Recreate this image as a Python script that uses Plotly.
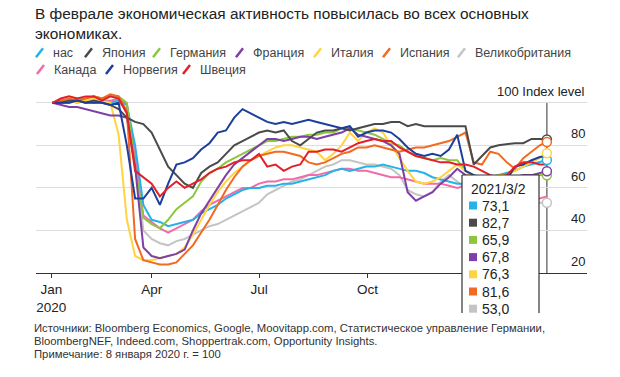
import plotly.graph_objects as go
import pandas as pd

# ---------------- data ----------------
dates = [d.strftime("%Y-%m-%d") for d in pd.date_range("2020-01-08", periods=60, freq="7D")] + ["2021-03-02"]

names = ["нас", "Япония", "Германия", "Франция", "Италия", "Испания",
         "Великобритания", "Канада", "Норвегия", "Швеция"]

us = [100,100,101,100,101,100,101,100,101, 99,80,52,45,44,42,43,44,45,48,50,
      52,55,57,59,60,60,61,61,62,62, 63,64,65,66,68,69,68,69,70,70,
      71,70,69,68,68,67,65,64,63,62, 62,63,64,65,66,67,68,70,71,72, 73.1]
japan = [100,100,101,101,100,101,100,99,97, 93,91,90,86,78,70,66,62,60,67,70,
         72,76,80,82,84,86,87,86,87,82, 80,83,86,87,87,88,87,88,89,90,
         90,91,91,89,90,89,89,89,89,89, 89,71,75,79,80,80.5,81,81,83,83, 82.7]
germany = [100,101,101,102,102,103,102,103,103, 100,70,46,43,41,45,50,53,56,63,67,
           69,72,74,76,78,80,82,82,83,84, 84,85,85,86,86,88,88,87,86,85,
           83,81,80,77,75,74,73,74,73,73, 68,66,62,62,63,64,64,65,66,66, 65.9]
france = [100,99,98,98,97,96,95,94,94, 93,70,32,28,27,28,29,31,40,48,54,
          60,66,71,74,77,80,83,83,82,83, 84,84,83,84,85,86,88,85,84,83,
          82,80,76,58,54,56,58,62,65,69, 66,65,62,63,64,64,65,66,66,67, 67.8]
italy = [100,100,101,100,101,102,101,100,85, 45,28,26,26,27,28,29,32,38,45,52,
         58,63,67,70,73,75,77,79,80,80, 79,78,77,73,76,80,86,82,86,88,
         86,80,74,68,63,62,63,65,68,71, 68,64,63,64,66,66,68,70,72,74, 76.3]
spain = [100,101,102,101,102,103,102,104,103, 96,36,26,25,24,24,25,29,33,39,45,
         52,59,65,70,73,75,76,77,77,76, 75,72,71,72,74,76,77,79,79,80,
         79,78,77,78,79,79,80,81,82,84, 86,72,71,77,76,72,69,74,77,80, 81.6]
uk = [100,100,100,101,100,100,100,99,100, 97,75,40,36,34,33,35,36,38,40,42,
      43,45,47,49,51,53,57,59,61,63, 64,66,68,70,71,73,73,72,71,71,
      70,69,66,59,57,56,58,63,66,63, 60,55,52,51,51,51,52,52,52,53, 53.0]
canada = [100,100,100,101,100,101,101,101,102, 99,75,47,44,41,39,41,43,45,49,52,
          54,56,58,60,60,62,63,63,64,64, 65,66,66,67,68,69,69,68,68,67,
          66,65,65,64,63,62,62,62,61,60, 61,60,59,58,58,57,57,56,56,55, 56]
norway = [100,100,100,101,100,100,100,99,100, 80,55,55,60,52,62,71,72,74,78,81,
          86,87,93,97,95,93,91,90,91,90, 91,92,91,90,89,88,89,84,86,87,
          87,86,83,79,76,75,76,75,78,85, 68,66,65,65,64,64,70,71,73,74.5, 75]
sweden = [100,102,103,102,103,103,101,103,102, 95,68,65,62,56,60,63,60,62,64,67,
          69,70,72,73,73,76,70,71,68,70, 71,77,77,78,78,77,79,81,82,83,
          82,82,79,77,75,74,73,72,72,71, 71,70,68,66,65,66,70,72,72,71, 71]

values = [us, japan, germany, france, italy, spain, uk, canada, norway, sweden]
colors = ["#25b2e6", "#4a4a4a", "#8cc63f", "#7e3fa6", "#ffd43f", "#f26a21",
          "#c4c4c4", "#f06ba8", "#1d3f9c", "#e3202a"]

tooltip_date = "2021/3/2"
tooltip_idx = [0, 1, 2, 3, 4, 5, 6]

x_tickvals = ["2020-01-07", "2020-04-01", "2020-07-01", "2020-10-01"]
x_ticktext = ["Jan<br>2020", "Apr", "Jul", "Oct"]
y_tickvals = [20, 40, 60, 80, 100]
y_ticktext = ["20", "40", "60", "80", "100 Index level"]

title = "В феврале экономическая активность повысилась во всех основных<br>экономиках."
footer = ["Источники: Bloomberg Economics, Google, Moovitapp.com, Статистическое управление Германии,",
          "BloombergNEF, Indeed.com, Shoppertrak.com, Opportunity Insights.",
          "Примечание: 8 января 2020 г. = 100"]

# ---------------- geometry ----------------
W, H = 620, 377
L, R, T, B = 36, 33, 90, 104
PW, PH = W - L - R, H - T - B
FONT = "Liberation Sans, Arial, sans-serif"

def px(x):
    return (x - L) / PW

def py(y):
    return (H - B - y) / PH

fig = go.Figure()

draw_order = [6, 7, 0, 2, 4, 3, 5, 1, 8, 9]
for i in draw_order:
    fig.add_trace(go.Scatter(x=dates, y=values[i], mode="lines", name=names[i],
                             line=dict(color=colors[i], width=2),
                             showlegend=False, hoverinfo="skip"))

for i in [6, 2, 3, 0, 4, 1, 5]:
    fig.add_trace(go.Scatter(x=[dates[-1]], y=[values[i][-1]], mode="markers",
                             marker=dict(size=9, color="white",
                                         line=dict(color=colors[i], width=1.5)),
                             showlegend=False, hoverinfo="skip"))

shapes = []
annotations = []

# y labels above their gridlines, right-aligned
for v, t in zip(y_tickvals, y_ticktext):
    annotations.append(dict(xref="paper", yref="y", x=1.0, y=v, text=t, showarrow=False,
                            xanchor="right", yanchor="bottom", yshift=2,
                            font=dict(family=FONT, size=13, color="#222")))

# vertical cursor line
shapes.append(dict(type="line", xref="x", yref="y", x0=dates[-1], x1=dates[-1],
                   y0=20, y1=100, line=dict(color="#555555", width=1.2), layer="below"))

# tooltip box
bx0, bx1, by0, by1 = 462, 539, 175, 313
shapes.append(dict(type="rect", xref="paper", yref="paper", x0=px(bx0), x1=px(bx1),
                   y0=py(by1), y1=py(by0), fillcolor="white", line=dict(width=0), layer="above"))
for (xa, ya, xb, yb) in [(bx0, by0, bx0, by1), (bx0, by0, bx1, by0), (bx1, by0, bx1, by1)]:
    shapes.append(dict(type="line", xref="paper", yref="paper", x0=px(xa), x1=px(xb),
                       y0=py(ya), y1=py(yb), line=dict(color="#333333", width=1.2), layer="above"))
annotations.append(dict(xref="paper", yref="paper", x=px(469), y=py(188.5), text=tooltip_date,
                        showarrow=False, xanchor="left", yanchor="middle",
                        font=dict(family=FONT, size=14, color="#222")))
for n, i in enumerate(tooltip_idx):
    yc = 205.5 + 17.2 * n
    shapes.append(dict(type="rect", xref="paper", yref="paper", x0=px(469), x1=px(477),
                       y0=py(yc + 4), y1=py(yc - 4), fillcolor=colors[i], line=dict(width=0), layer="above"))
    annotations.append(dict(xref="paper", yref="paper", x=px(479.5), y=py(yc),
                            text=f"{values[i][-1]:.1f}".replace(".", ","),
                            showarrow=False, xanchor="left", yanchor="middle",
                            font=dict(family=FONT, size=14, color="#222")))

# title
annotations.append(dict(xref="paper", yref="paper", x=px(33), y=py(3), text=title,
                        showarrow=False, xanchor="left", yanchor="top", align="left",
                        font=dict(family=FONT, size=15.4, color="#222")))

# custom legend
leg_rows = [[(0, 51), (1, 100), (2, 168), (3, 251), (4, 329), (5, 398), (6, 473)],
            [(7, 52), (8, 121), (9, 198)]]
for row, yc in zip(leg_rows, [52.7, 69.5]):
    for i, tx in row:
        sx = tx - 15
        shapes.append(dict(type="line", xref="paper", yref="paper", x0=px(sx), x1=px(sx + 7),
                           y0=py(yc + 4.5), y1=py(yc - 4.5),
                           line=dict(color=colors[i], width=2.5)))
        annotations.append(dict(xref="paper", yref="paper", x=px(tx), y=py(yc), text=names[i],
                                showarrow=False, xanchor="left", yanchor="middle",
                                font=dict(family=FONT, size=12.5, color="#444")))

# footer
for line, yc in zip(footer, [327.5, 340.5, 353.5]):
    annotations.append(dict(xref="paper", yref="paper", x=px(33), y=py(yc), text=line,
                            showarrow=False, xanchor="left", yanchor="middle", borderpad=0,
                            font=dict(family=FONT, size=11.3, color="#333")))

fig.update_layout(
    width=W, height=H, margin=dict(l=L, r=R, t=T, b=B),
    plot_bgcolor="white", paper_bgcolor="white",
    font=dict(family=FONT, color="#222"),
    hovermode=False,
    shapes=shapes, annotations=annotations,
    xaxis=dict(type="date", range=["2019-12-25", "2021-04-05"],
               tickmode="array", tickvals=x_tickvals, ticktext=x_ticktext,
               ticks="outside", ticklen=4, tickcolor="#333", tickwidth=1,
               showline=True, linecolor="#333", linewidth=1.2,
               showgrid=False, zeroline=False,
               tickfont=dict(family=FONT, size=13.5, color="#222")),
    yaxis=dict(range=[20, 106], tickmode="array", tickvals=y_tickvals,
               showticklabels=False,
               showgrid=True, gridcolor="#dddddd", gridwidth=1,
               zeroline=False, showline=False, ticks=""),
)

fig.write_html("out.html", config={"displayModeBar": False},
               post_script="document.body.style.margin='0';")
